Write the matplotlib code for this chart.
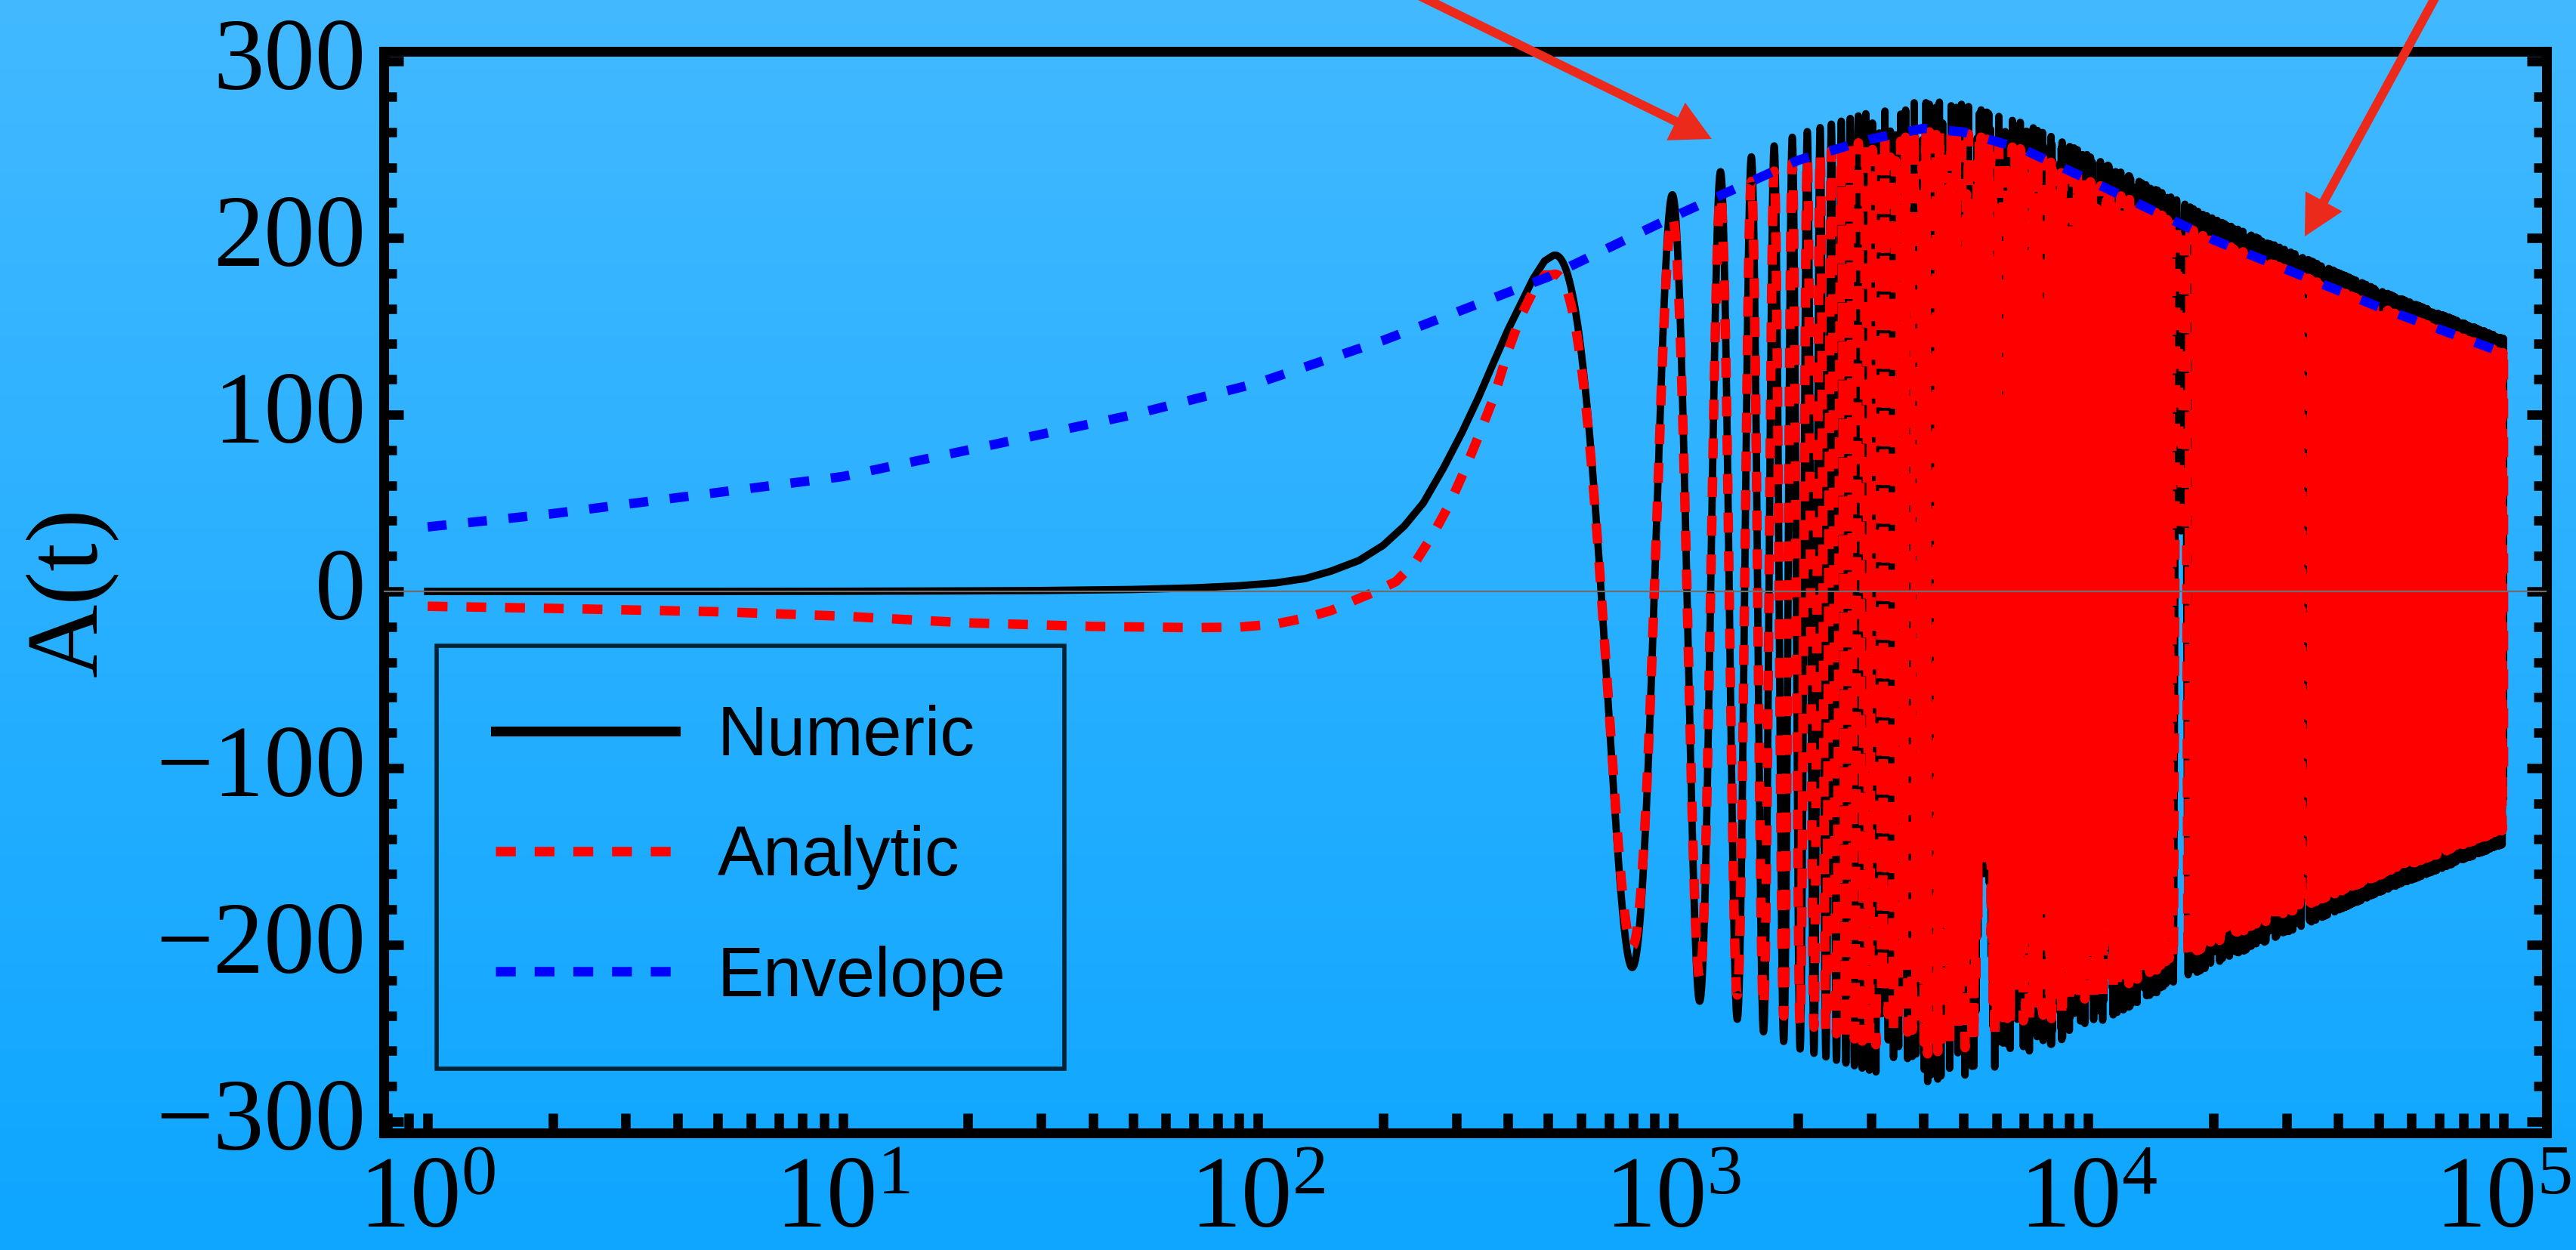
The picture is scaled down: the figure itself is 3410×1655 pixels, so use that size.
import numpy as np
import matplotlib.pyplot as plt
from matplotlib.lines import Line2D
from matplotlib.colors import LinearSegmentedColormap
from matplotlib.ticker import MultipleLocator, LogLocator, NullFormatter
from matplotlib.transforms import ScaledTranslation

plt.rcParams['font.family'] = ['Liberation Serif', 'DejaVu Serif']
plt.rcParams['mathtext.fontset'] = 'custom'
plt.rcParams['mathtext.rm'] = 'Liberation Serif'
plt.rcParams['mathtext.default'] = 'regular'

# envelope
env_t = [1, 2, 5, 10, 20, 50, 100, 200, 500, 1000, 2000, 3000, 4000, 5000,
         7000, 10000, 20000, 50000, 100000]
env_val = [36.5, 44, 56, 65, 80, 100, 118, 142, 178, 212, 244, 256, 262, 260,
           250, 233, 199, 161, 135]

# smooth part before the first maximum
num_pre_t = [1, 2, 5, 10, 20, 30, 50, 70, 90, 110, 130, 150, 175, 200, 225,
             250, 280, 310, 340, 370, 400, 430, 460, 490, 512]
numeric_pre = [0, 0, 0, 0.1, 0.3, 0.5, 1.1, 2, 3.2, 4.8, 7.3, 11.5, 17.5, 26,
               37, 50, 70, 90, 110, 130, 148, 163, 177, 187, 191]
ana_pre_t = [1, 2, 5, 10, 20, 40, 70, 90, 110, 130, 150, 170, 190, 215, 240,
             265, 290, 315, 340, 370, 400, 430, 460, 490, 512]
analytic_pre = [-8.4, -9.6, -11.5, -14, -17.8, -19.8, -20.5, -20.2, -18.5, -15,
                -10.8, -5.2, -0.5, 5.6, 17, 33, 50, 69, 88, 110, 136, 156, 170,
                179, 182]

# times of the successive maxima / minima of the first oscillations
ext_t = [512, 808, 1007, 1166, 1303, 1426, 1536, 1653, 1760]
numeric_gain = 1.06   # black peaks sit a bit above the envelope
gap_t = 16700         # first sampling stripe in the dense band
t_end = 1e5

labels = ['Numeric', 'Analytic', 'Envelope']

# oscillating part: phase fitted to the extrema read above
coef = np.polyfit(ext_t, np.arange(len(ext_t)) * np.pi, 2)
phase = np.poly1d(coef)
step = 2 * np.pi / phase.deriv()(gap_t)

t_osc = np.concatenate([np.arange(ext_t[0], 3000, 1.0),
                        np.arange(3000, t_end, step), [t_end]])
env_osc = np.interp(np.log10(t_osc), np.log10(env_t), env_val)
carrier = np.cos(phase(t_osc) - phase(ext_t[0]))

t_num = np.concatenate([num_pre_t[:-1], t_osc])
numeric = np.concatenate([numeric_pre[:-1], numeric_gain * env_osc * carrier])
t_ana = np.concatenate([ana_pre_t[:-1], t_osc])
analytic = np.concatenate([analytic_pre[:-1], env_osc * carrier])

fig = plt.figure(figsize=(34.1, 16.55), dpi=100)

# gradient background
bg = fig.add_axes([0, 0, 1, 1], zorder=-1)
cmap = LinearSegmentedColormap.from_list('bg', ['#42B9FF', '#0EA6FF'])
bg.imshow(np.linspace(0, 1, 256).reshape(-1, 1), aspect='auto', cmap=cmap,
          extent=[0, 1, 0, 1], origin='upper')
bg.axis('off')

ax = fig.add_axes([0.149, 0.0937, 0.8396, 0.8652])
ax.set_facecolor('none')

ax.plot(t_num, numeric, color='black', lw=7, zorder=2)
ax.plot(t_ana, analytic, color='red', lw=9, dashes=(2.1, 2.0), zorder=3)
ax.plot(env_t, env_val, color='blue', lw=9, dashes=(2.0, 2.3), zorder=4)
ax.axhline(0, color='#6E6E6E', lw=1.6, zorder=5)

ax.set_xscale('log')
ax.set_xlim(0.784, 1.27e5)
ax.set_ylim(-306.4, 305.6)

ax.yaxis.set_major_locator(MultipleLocator(100))
ax.yaxis.set_minor_locator(MultipleLocator(20))
ax.xaxis.set_major_locator(LogLocator(base=10, numticks=20))
ax.xaxis.set_minor_locator(LogLocator(base=10, subs=np.arange(2, 10), numticks=20))
ax.xaxis.set_minor_formatter(NullFormatter())

ax.tick_params(which='both', direction='in', width=9, color='black')
ax.tick_params(axis='x', which='both', length=19, pad=22, labelsize=97, top=False)
ax.tick_params(axis='y', which='major', length=19, pad=17, labelsize=97, right=True)
ax.tick_params(axis='y', which='minor', length=12, right=True)
for sp in ax.spines.values():
    sp.set_linewidth(9.4)

# y tick labels sit slightly above their ticks in the original
lift = ScaledTranslation(0, 0.1, fig.dpi_scale_trans)
for lab in ax.get_yticklabels():
    lab.set_transform(lab.get_transform() + lift)

ax.set_ylabel('A(t)', fontsize=97)
ax.yaxis.set_label_coords(-0.1226, 0.5)

handles = [Line2D([], [], color='black', lw=9.4),
           Line2D([], [], color='red', lw=9, dashes=(2.1, 2.0)),
           Line2D([], [], color='blue', lw=9, dashes=(2.1, 2.0))]
leg = ax.legend(handles, labels, loc='upper left', bbox_to_anchor=(0.02445, 0.4504),
                borderaxespad=0, prop={'family': 'Liberation Sans', 'size': 66},
                fancybox=False, edgecolor='black', facecolor='none',
                borderpad=0.85, labelspacing=0.8, handlelength=2.6,
                handletextpad=0.6)
leg.get_frame().set_linewidth(4)
leg.set_zorder(6)

# red pointer arrows coming in from above the figure
arrow_kw = dict(color='#EC2A1C', width=8.6, headwidth=40, headlength=38, lw=0)
ax.annotate('', xy=(0.6645, 0.8888), xycoords='figure fraction',
            xytext=(0.5425, 1.012), textcoords='figure fraction',
            arrowprops=arrow_kw, annotation_clip=False)
ax.annotate('', xy=(0.8947, 0.8109), xycoords='figure fraction',
            xytext=(0.948, 1.012), textcoords='figure fraction',
            arrowprops=arrow_kw, annotation_clip=False)

fig.savefig('out.png', dpi=100)
